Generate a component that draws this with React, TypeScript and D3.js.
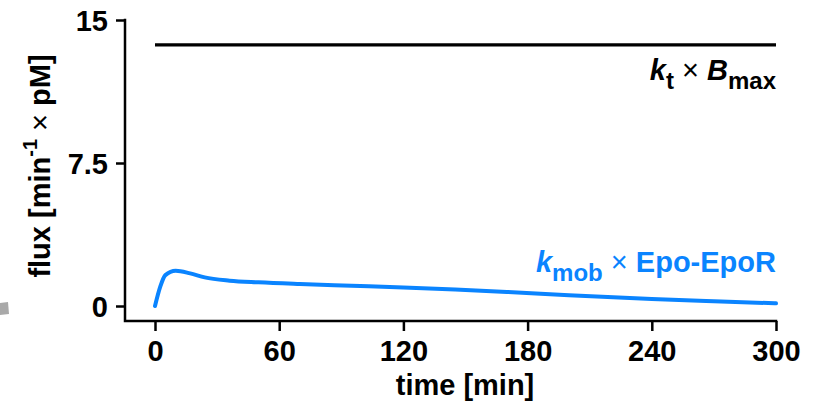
import * as d3 from "d3";
import { useRef, useEffect } from "react";

const width = 814;
const height = 411;

// axis frame (pixels)
const left = 125;
const bottom = 321;
const plotTop = 20;

// blue series: k_mob x Epo-EpoR
const timeMin = [0, 2.5, 5, 10, 17, 24, 36, 50, 70, 95, 120, 145, 170, 200, 240, 270, 300];
const mobFlux = [0, 1.0, 1.62, 1.85, 1.71, 1.5, 1.33, 1.24, 1.15, 1.06, 0.97, 0.86, 0.74, 0.57, 0.37, 0.25, 0.14];

// black series: k_t x B_max (constant)
const maxTime = [0, 300];
const maxFlux = [13.7, 13.7];

const xTicks = [0, 60, 120, 180, 240, 300];
const yTicks = [0, 7.5, 15];

const blue = "#0a84ff";
const font = "'Liberation Sans', Arial, Helvetica, sans-serif";
const fs = "29px";
const subFs = "24px";

export default function App() {
  const svgRef = useRef<SVGSVGElement>(null);

  useEffect(() => {
    const svg = d3.select(svgRef.current);
    svg.selectAll("*").remove();

    const x = d3.scaleLinear().domain([0, 300]).range([155, 776]);
    const y = d3.scaleLinear().domain([0, 15]).range([306, plotTop]);

    const g = svg.append("g").style("font-family", font).style("font-weight", "bold");

    // stray grey mark from neighbouring panel
    g.append("polygon")
      .attr("points", "0,303 8,302 9,314 0,315")
      .attr("fill", "#a9a9a9");

    // y axis
    const yAxis = g.append("g")
      .attr("transform", `translate(${left},0)`)
      .call(d3.axisLeft(y).tickValues(yTicks).tickSize(9).tickPadding(8)
        .tickFormat(d => (d === 7.5 ? "7.5" : d3.format("d")(d as number))));
    yAxis.select(".domain").remove();
    yAxis.selectAll(".tick line").attr("stroke", "#000").attr("stroke-width", 2.5);
    yAxis.selectAll(".tick text")
      .attr("fill", "#000")
      .style("font-size", fs)
      .style("font-family", font)
      .style("font-weight", "bold")
      .attr("dy", "0.36em");

    // x axis
    const xAxis = g.append("g")
      .attr("transform", `translate(0,${bottom})`)
      .call(d3.axisBottom(x).tickValues(xTicks).tickSize(10).tickPadding(10));
    xAxis.select(".domain").remove();
    xAxis.selectAll(".tick line").attr("stroke", "#000").attr("stroke-width", 2.5);
    xAxis.selectAll(".tick text")
      .attr("fill", "#000")
      .style("font-size", fs)
      .style("font-family", font)
      .style("font-weight", "bold")
      .attr("dy", "0.69em");

    // frame lines
    g.append("path")
      .attr("d", `M${left},${y(15)}V${bottom}H${x(300)}`)
      .attr("fill", "none")
      .attr("stroke", "#000")
      .attr("stroke-width", 2.5)
      .attr("stroke-linecap", "square");

    // lines
    const line = d3.line<[number, number]>()
      .x(d => x(d[0]))
      .y(d => y(d[1]))
      .curve(d3.curveMonotoneX);

    g.append("path")
      .datum(maxTime.map((t, i) => [t, maxFlux[i]] as [number, number]))
      .attr("d", line)
      .attr("fill", "none")
      .attr("stroke", "#000")
      .attr("stroke-width", 3.2);

    g.append("path")
      .datum(timeMin.map((t, i) => [t, mobFlux[i]] as [number, number]))
      .attr("d", line)
      .attr("fill", "none")
      .attr("stroke", blue)
      .attr("stroke-width", 4)
      .attr("stroke-linecap", "round")
      .attr("stroke-linejoin", "round");

    // axis titles
    g.append("text")
      .attr("x", 465)
      .attr("y", 395)
      .attr("text-anchor", "middle")
      .style("font-size", fs)
      .text("time [min]");

    const yt = g.append("text")
      .attr("transform", `translate(50,166) rotate(-90)`)
      .attr("text-anchor", "middle")
      .style("font-size", fs);
    yt.append("tspan").text("flux [min");
    yt.append("tspan").attr("dy", -13).style("font-size", "20px").text("-1");
    yt.append("tspan").attr("dy", 13).style("font-weight", "normal").text(" \u00d7 ");
    yt.append("tspan").text("pM]");

    // series labels
    const l1 = g.append("text")
      .attr("x", 776)
      .attr("y", 80)
      .attr("text-anchor", "end")
      .style("font-size", fs)
      .attr("fill", "#000");
    l1.append("tspan").style("font-style", "italic").text("k");
    l1.append("tspan").attr("dy", 9).style("font-size", subFs).text("t");
    l1.append("tspan").attr("dy", -9).style("font-weight", "normal").text(" \u00d7 ");
    l1.append("tspan").style("font-style", "italic").text("B");
    l1.append("tspan").attr("dy", 9).style("font-size", subFs).text("max");

    const l2 = g.append("text")
      .attr("x", 776)
      .attr("y", 272)
      .attr("text-anchor", "end")
      .style("font-size", fs)
      .attr("fill", blue);
    l2.append("tspan").style("font-style", "italic").text("k");
    l2.append("tspan").attr("dy", 9).style("font-size", subFs).text("mob");
    l2.append("tspan").attr("dy", -9).style("font-weight", "normal").text(" \u00d7 ");
    l2.append("tspan").text("Epo-EpoR");
  }, []);

  return (
    <div style={{ position: "fixed", left: 0, top: 0, width, height, background: "#fff" }}>
      <svg ref={svgRef} width={width} height={height} style={{ display: "block" }} />
    </div>
  );
}
